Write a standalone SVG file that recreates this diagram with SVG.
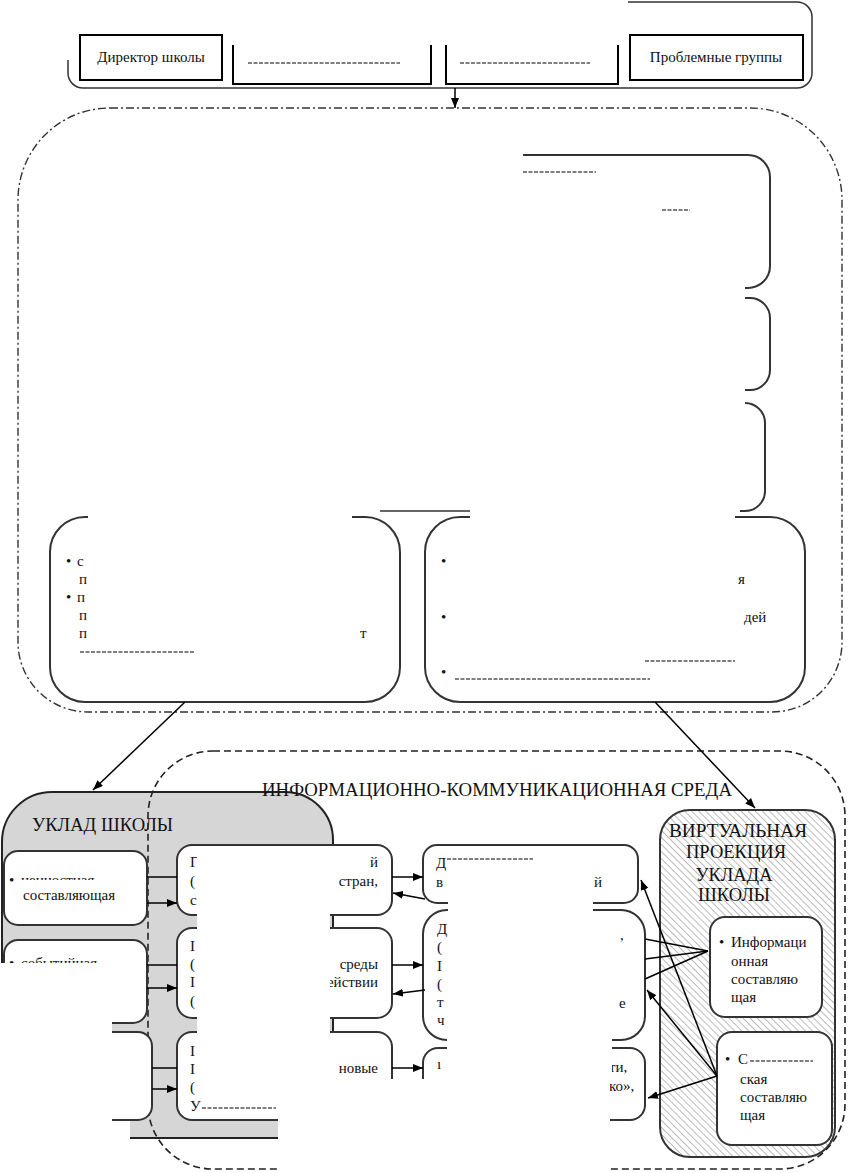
<svg xmlns="http://www.w3.org/2000/svg" width="850" height="1173" viewBox="0 0 850 1173">
<defs>
<style>
.t{font-family:"Liberation Serif","Times New Roman",serif;font-size:15px;fill:#111}
.big{font-family:"Liberation Serif","Times New Roman",serif;font-size:19px;fill:#111}
.box{fill:#fff;stroke:#333;stroke-width:2}
.sq{fill:#fff;stroke:#000;stroke-width:2}
.open{fill:none;stroke:#333;stroke-width:2}
.conn{fill:none;stroke:#000;stroke-width:1.5}
.arr{fill:none;stroke:#000;stroke-width:1.5;marker-end:url(#ah)}
.mask{fill:#fff;stroke:none}
.frag{fill:none;stroke:#555;stroke-width:1.6;stroke-dasharray:4,1.5}
</style>
<marker id="ah" markerUnits="userSpaceOnUse" markerWidth="11" markerHeight="9" refX="10" refY="4" orient="auto">
<path d="M0,0 L10,4 L0,8 Z" fill="#000"/>
</marker>
<pattern id="hatch" patternUnits="userSpaceOnUse" width="5" height="5" patternTransform="rotate(-45)">
<rect width="5" height="5" fill="#fff"/>
<line x1="0" y1="0" x2="0" y2="5" stroke="#777" stroke-width="1"/>
</pattern>
</defs>

<!-- TOP: management bodies -->
<g id="top-frame">
<path class="open" style="stroke-width:1.5" d="M628,2 H797 A15,15 0 0 1 812,17 V73 A15,15 0 0 1 797,88 H83 A15,15 0 0 1 68,73 V60"/>
</g>
<g id="n-director">
<rect class="sq" x="80" y="35" width="142" height="45"/>
<text class="t" x="151" y="62" text-anchor="middle">Директор школы</text>
</g>
<g id="n-box2">
<path class="open" style="stroke:#000" d="M233,45 V84 H431 V45"/>
<line class="frag" x1="248" y1="63" x2="400" y2="63"/>
</g>
<g id="n-box3">
<path class="open" style="stroke:#000" d="M446,45 V84 H618 V45"/>
<line class="frag" x1="460" y1="63" x2="590" y2="63"/>
</g>
<g id="n-problem">
<rect class="sq" x="630" y="35" width="173" height="45"/>
<text class="t" x="716" y="62" text-anchor="middle">Проблемные  группы</text>
</g>

<!-- MIDDLE -->
<g id="middle-frame">
<path d="M110,108 H750 A92,92 0 0 1 842,200 V642 A70,70 0 0 1 772,712 H88 A70,70 0 0 1 18,642 V200 A92,92 0 0 1 110,108 Z" fill="none" stroke="#333" stroke-width="1.4" stroke-dasharray="8,3,2,3"/>
</g>
<g id="n-A">
<path class="open" d="M523,155 H748 A22,22 0 0 1 770,177 V266 A22,22 0 0 1 748,288 H745"/>
<line class="frag" x1="523" y1="172" x2="596" y2="172"/>
<line class="frag" x1="662" y1="210" x2="690" y2="210"/>
</g>
<g id="n-B">
<path class="open" d="M745,298 H750 A20,20 0 0 1 770,318 V370 A20,20 0 0 1 750,390 H745"/>
</g>
<g id="n-C">
<path class="open" d="M745,403 H745 A20,20 0 0 1 765,423 V491 A20,20 0 0 1 745,511 H740"/>
<line x1="380" y1="511" x2="470" y2="511" stroke="#333" stroke-width="1.5"/>
</g>
<g id="n-D">
<path class="open" d="M88,517 H85 A35,35 0 0 0 50,552 V667 A35,35 0 0 0 85,702 H365 A35,35 0 0 0 400,667 V552 A35,35 0 0 0 365,517 H352"/>
<text class="t" x="66" y="566">•</text><text class="t" x="77" y="566">с</text>
<text class="t" x="79" y="584">п</text>
<text class="t" x="66" y="602">•</text><text class="t" x="77" y="602">п</text>
<text class="t" x="79" y="620">п</text>
<text class="t" x="79" y="638">п</text><text class="t" x="360" y="638">т</text>
<line class="frag" x1="80" y1="652" x2="195" y2="652"/>
</g>
<g id="n-E">
<path class="open" d="M470,517 H460 A35,35 0 0 0 425,552 V667 A35,35 0 0 0 460,702 H770 A35,35 0 0 0 805,667 V552 A35,35 0 0 0 770,517 H735"/>
<text class="t" x="441" y="566">•</text>
<text class="t" x="738" y="584">я</text>
<text class="t" x="441" y="622">•</text>
<text class="t" x="744" y="622">дей</text>
<text class="t" x="441" y="677">•</text>
<line class="frag" x1="645" y1="661" x2="735" y2="661"/>
<line class="frag" x1="455" y1="679" x2="650" y2="679"/>
</g>

<!-- BOTTOM -->
<g id="n-uklad">
<path d="M2,1138 V842 A50,50 0 0 1 52,792 H285 A48,48 0 0 1 333,840 V1138 Z" fill="#d6d6d6" stroke="#222" stroke-width="2"/>
<text class="big" x="32" y="831" textLength="141" lengthAdjust="spacingAndGlyphs">УКЛАД ШКОЛЫ</text>
</g>
<g id="n-ict">
<rect x="148" y="751" width="697" height="418" rx="65" ry="65" fill="none" stroke="#222" stroke-width="1.6" stroke-dasharray="7,4"/>
<text class="big" x="262" y="796" textLength="470" lengthAdjust="spacingAndGlyphs">ИНФОРМАЦИОННО-КОММУНИКАЦИОННАЯ СРЕДА</text>
</g>
<g id="n-L1">
<rect class="box" x="4" y="851" width="143" height="74" rx="14"/>
<text class="t" x="9" y="885">•</text>
<text class="t" x="21" y="885">ценностная</text>
<text class="t" x="23" y="900">составляющая</text>
</g>
<g id="n-L2">
<rect class="box" x="4" y="940" width="143" height="83" rx="14"/>
<text class="t" x="9" y="968">•</text>
<text class="t" x="21" y="968">событийная</text>
</g>
<g id="n-L3">
<rect class="box" x="4" y="1032" width="148" height="88" rx="14"/>
</g>
<g id="n-M1">
<rect class="box" x="177" y="845" width="215" height="70" rx="15"/>
<text class="t" x="190" y="867">Г</text><text class="t" x="190" y="886">(</text><text class="t" x="190" y="905">с</text>
<text class="t" x="378" y="867" text-anchor="end">й</text>
<text class="t" x="378" y="886" text-anchor="end">стран,</text>
</g>
<g id="n-M2">
<rect class="box" x="177" y="928" width="215" height="90" rx="15"/>
<text class="t" x="190" y="951">I</text><text class="t" x="190" y="969">(</text><text class="t" x="190" y="987">I</text><text class="t" x="190" y="1006">(</text>
<text class="t" x="378" y="969" text-anchor="end">среды</text>
<text class="t" x="378" y="987" text-anchor="end">ействии</text>
</g>
<g id="n-M3">
<rect class="box" x="177" y="1032" width="215" height="88" rx="15"/>
<text class="t" x="190" y="1056">I</text><text class="t" x="190" y="1074">I</text><text class="t" x="190" y="1092">(</text><text class="t" x="190" y="1111">У</text>
<line class="frag" x1="202" y1="1108" x2="276" y2="1108"/>
<text class="t" x="378" y="1073" text-anchor="end">новые</text>
</g>
<g id="n-R1">
<rect class="box" x="423" y="845" width="215" height="58" rx="14"/>
<text class="t" x="436" y="868">Д</text>
<line class="frag" x1="447" y1="859" x2="533" y2="859"/>
<text class="t" x="436" y="887">в</text>
<text class="t" x="594" y="887">й</text>
</g>
<g id="n-R2">
<rect class="box" x="423" y="910" width="222" height="130" rx="24"/>
<text class="t" x="437" y="934">Д</text><text class="t" x="437" y="952">(</text><text class="t" x="437" y="971">I</text><text class="t" x="437" y="989">(</text><text class="t" x="437" y="1007">т</text><text class="t" x="437" y="1025">ч</text>
<text class="t" x="620" y="940">,</text>
<text class="t" x="619" y="1008">е</text>
</g>
<g id="n-R3">
<rect class="box" x="423" y="1048" width="222" height="72" rx="15"/>
<text class="t" x="437" y="1069">ı</text>
<text class="t" x="609" y="1072">ти,</text>
<text class="t" x="609" y="1091">ко»,</text>
</g>

<!-- occlusions of the source scan -->
<g id="occlusions">
<rect class="mask" x="15" y="880" width="120" height="13"/>
<rect class="mask" x="0" y="963" width="112" height="210"/>
<rect class="mask" x="0" y="1121" width="130" height="52"/>
<rect class="mask" x="197" y="851" width="133" height="228"/>
<rect class="mask" x="278" y="1079" width="332" height="94"/>
<rect class="mask" x="448" y="862" width="145" height="108"/>
<rect class="mask" x="447" y="970" width="165" height="109"/>
</g>

<g id="n-virtual">
<rect x="660" y="810" width="175" height="347" rx="30" fill="url(#hatch)" stroke="#333" stroke-width="2"/>
<text class="big" x="738" y="837" text-anchor="middle" textLength="138" lengthAdjust="spacingAndGlyphs">ВИРТУАЛЬНАЯ</text>
<text class="big" x="736" y="858" text-anchor="middle" textLength="100" lengthAdjust="spacingAndGlyphs">ПРОЕКЦИЯ</text>
<text class="big" x="734" y="881" text-anchor="middle" textLength="77" lengthAdjust="spacingAndGlyphs">УКЛАДА</text>
<text class="big" x="734" y="901" text-anchor="middle" textLength="72" lengthAdjust="spacingAndGlyphs">ШКОЛЫ</text>
</g>
<g id="n-V1">
<rect class="box" x="710" y="917" width="112" height="100" rx="15"/>
<text class="t" x="719" y="947">•</text>
<text class="t" x="731" y="947">Информаци</text>
<text class="t" x="731" y="966">онная</text>
<text class="t" x="731" y="984">составляю</text>
<text class="t" x="731" y="1002">щая</text>
</g>
<g id="n-V2">
<rect class="box" x="717" y="1032" width="115" height="113" rx="15"/>
<text class="t" x="725" y="1064">•</text>
<text class="t" x="738" y="1064">С</text>
<line class="frag" x1="750" y1="1061" x2="813" y2="1061"/>
<text class="t" x="740" y="1084">ская</text>
<text class="t" x="740" y="1102">составляю</text>
<text class="t" x="740" y="1120">щая</text>
</g>

<g id="connectors">
<line class="arr" x1="455" y1="88" x2="455" y2="108"/>
<line class="arr" x1="185" y1="702" x2="93" y2="790"/>
<line class="arr" x1="655" y1="702" x2="755" y2="808"/>
<line class="conn" x1="147" y1="877" x2="177" y2="877"/>
<line class="arr" x1="147" y1="903" x2="177" y2="903"/>
<line class="conn" x1="147" y1="965" x2="177" y2="965"/>
<line class="arr" x1="147" y1="988" x2="177" y2="988"/>
<line class="conn" x1="152" y1="1068" x2="177" y2="1068"/>
<line class="arr" x1="152" y1="1089" x2="177" y2="1089"/>
<line class="arr" x1="392" y1="877" x2="423" y2="877"/>
<line class="arr" x1="425" y1="899" x2="393" y2="893"/>
<line class="arr" x1="392" y1="965" x2="423" y2="965"/>
<line class="arr" x1="425" y1="990" x2="393" y2="994"/>
<line class="arr" x1="392" y1="1068" x2="423" y2="1068"/>
<line class="conn" x1="708" y1="951" x2="645" y2="939"/>
<line class="conn" x1="708" y1="951" x2="645" y2="959"/>
<line class="conn" x1="708" y1="951" x2="645" y2="979"/>
<line class="arr" x1="717" y1="1076" x2="641" y2="880"/>
<line class="arr" x1="717" y1="1076" x2="647" y2="990"/>
<line class="arr" x1="717" y1="1076" x2="648" y2="1098"/>
</g>
</svg>
